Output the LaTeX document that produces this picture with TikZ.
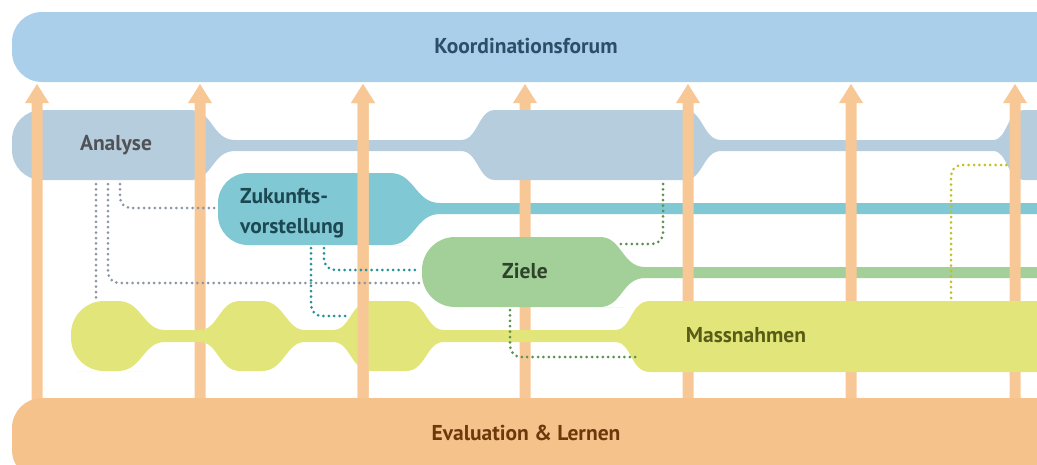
\documentclass[tikz,border=0pt]{standalone}
\usepackage{fontspec}
\setmainfont{PT Sans}
\definecolor{kfblue}{RGB}{170,207,234}
\definecolor{anblue}{RGB}{182,205,222}
\definecolor{tealrow}{RGB}{128,200,211}
\definecolor{greenrow}{RGB}{163,207,152}
\definecolor{yellrow}{RGB}{226,230,122}
\definecolor{evorange}{RGB}{245,194,140}
\definecolor{arroworange}{RGB}{247,200,150}
\definecolor{kftext}{RGB}{45,78,105}
\definecolor{antext}{RGB}{80,82,86}
\definecolor{zutext}{RGB}{28,72,82}
\definecolor{zitext}{RGB}{45,68,42}
\definecolor{matext}{RGB}{88,92,22}
\definecolor{evtext}{RGB}{108,58,10}
\definecolor{dotgrey}{RGB}{140,150,164}
\definecolor{dotteal}{RGB}{35,145,156}
\definecolor{dotgreen}{RGB}{90,145,78}
\definecolor{dotyellow}{RGB}{196,192,36}
\tikzset{
  lbl/.style={font=\fontsize{21.5}{30}\selectfont\bfseries, inner sep=0pt},
  dotline/.style={line width=3pt, dash pattern=on 0pt off 5.4pt, line cap=round, rounded corners=11pt},
  arrowfill/.style={fill=arroworange},
}
\newcommand\uparrowat[1]{\fill[arrowfill] (#1-5.5,405) -- (#1-5.5,103) -- (#1-12,103) -- (#1,84) -- (#1+12,103) -- (#1+5.5,103) -- (#1+5.5,405) -- cycle;}
\begin{document}
\begin{tikzpicture}[x=1pt,y=-1pt]
\useasboundingbox (0,0) rectangle (1037,464);
\clip (0,0) rectangle (1037,464);
% top bar
\fill[kfblue, rounded corners=30pt] (12,12) rectangle (1090,82);
% teal row
\fill[tealrow] (390,173) [rounded corners=30pt] -- (218,173) -- (218,245) -- (380,245) [sharp corners] -- (390,245)
  .. controls (415,245) and (415,214) .. (440,214) -- (1045,214) -- (1045,203) -- (440,203)
  .. controls (415,203) and (415,173) .. (390,173) -- cycle;
% arrow under analyse row
\uparrowat{525}
% analyse row
\fill[anblue] (190,110) [rounded corners=30pt] -- (12,110) -- (12,180) -- (180,180) [sharp corners] -- (190,180)
  .. controls (213,180) and (212,151) .. (235,151) -- (461,151)
  .. controls (478,151) and (478,180) .. (495,180) -- (685,180)
  .. controls (703,180) and (703,151) .. (721,151) -- (993,151)
  .. controls (1008,151) and (1006,180) .. (1025,180) -- (1045,180) -- (1045,110) -- (1025,110)
  .. controls (1006,110) and (1008,140) .. (993,140) -- (721,140)
  .. controls (703,140) and (703,110) .. (685,110) -- (495,110)
  .. controls (478,110) and (478,140) .. (461,140) -- (235,140)
  .. controls (212,140) and (213,110) .. (190,110) -- cycle;
% green row
\fill[greenrow] (600,237) [rounded corners=33pt] -- (422,237) -- (422,307) -- (590,307) [sharp corners] -- (600,307)
  .. controls (622,307) and (622,278) .. (645,278) -- (1045,278) -- (1045,267) -- (645,267)
  .. controls (622,267) and (622,237) .. (600,237) -- cycle;
% arrows
\uparrowat{37}
\uparrowat{200}
\uparrowat{363}
\uparrowat{688}
\uparrowat{851}
\uparrowat{1015}
% yellow row
\fill[yellrow] (118,301) [rounded corners=33pt] -- (71,301) -- (71,371) -- (110,371) [sharp corners] -- (118,371)
  .. controls (142,371) and (143,342) .. (165,342) -- (200,342)
  .. controls (218,342) and (219,371) .. (240,371) -- (262,371)
  .. controls (284,371) and (286,342) .. (305,342) -- (333,342)
  .. controls (351,342) and (350,371) .. (372,371) -- (406,371)
  .. controls (426,371) and (426,342) .. (444,342) -- (615,342)
  .. controls (632,342) and (630,372) .. (650,372) -- (1045,372) -- (1045,301) -- (650,301)
  .. controls (630,301) and (632,330) .. (615,330) -- (444,330)
  .. controls (426,330) and (426,301) .. (406,301) -- (372,301)
  .. controls (350,301) and (351,330) .. (333,330) -- (305,330)
  .. controls (286,330) and (284,301) .. (262,301) -- (240,301)
  .. controls (219,301) and (218,330) .. (200,330) -- (165,330)
  .. controls (143,330) and (142,301) .. (118,301) -- cycle;
% arrow over yellow bulb
\uparrowat{363}
% bottom bar
\fill[evorange, rounded corners=30pt] (12,398) rectangle (1090,480);
% dotted connectors
\coordinate (an1) at (120,184); \coordinate (zu1) at (215,208);
\coordinate (an2) at (108,184); \coordinate (zi1) at (420,283);
\coordinate (an3) at (96,184);  \coordinate (ma1) at (96,298);
\coordinate (zu2) at (324,248); \coordinate (zi2) at (419,270);
\coordinate (zu3) at (311,248); \coordinate (ma2) at (350,316);
\coordinate (an4) at (663,184); \coordinate (zi3) at (619,244);
\coordinate (zi4) at (510,310); \coordinate (ma3) at (636,357);
\coordinate (ma4) at (951,298); \coordinate (an5) at (1007,165);
\draw[dotline, dotgrey] (an1) -- (an1 |- zu1) -- (zu1);
\draw[dotline, dotgrey] (an2) -- (an2 |- zi1) -- (zi1);
\draw[dotline, dotgrey] (an3) -- (ma1);
\draw[dotline, dotteal] (zu2) -- (zu2 |- zi2) -- (zi2);
\draw[dotline, dotteal] (zu3) -- (zu3 |- ma2) -- (ma2);
\draw[dotline, dotgreen] (an4) -- (an4 |- zi3) -- (zi3);
\draw[dotline, dotgreen] (zi4) -- (zi4 |- ma3) -- (ma3);
\draw[dotline, dotyellow] (ma4) -- (ma4 |- an5) -- (an5);
% labels
\node[lbl, text=kftext] (kf) at (526,46) {Koordinationsforum};
\node[lbl, text=antext] (an) at (116,145) {Analyse};
\node[lbl, text=zutext, anchor=west, align=left] (zu) at (240,213) {Zukunfts-\\vorstellung};
\node[lbl, text=zitext] (zi) at (525,271) {Ziele};
\node[lbl, text=matext] (ma) at (746,335) {Massnahmen};
\node[lbl, text=evtext] (ev) at (526,433) {Evaluation \& Lernen};
\end{tikzpicture}
\end{document}
